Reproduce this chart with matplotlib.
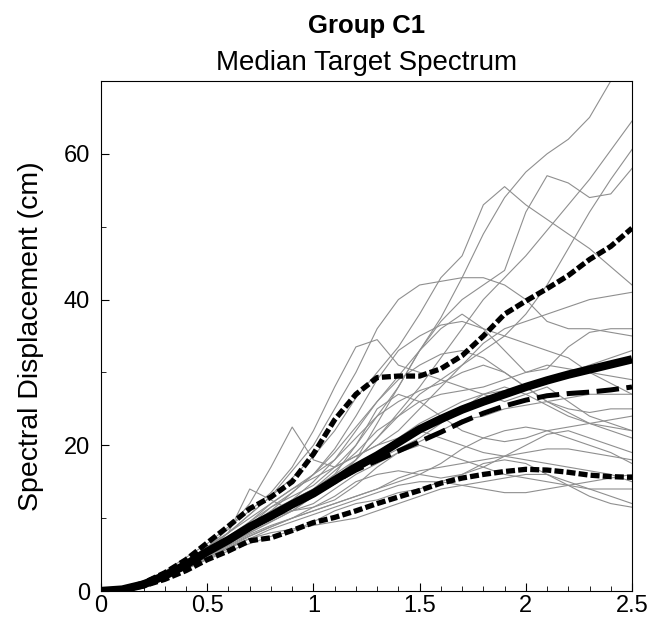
import numpy as np
import matplotlib
matplotlib.use("Agg")
import matplotlib.pyplot as plt
from matplotlib.ticker import MultipleLocator

plt.rcParams["font.family"] = ["Liberation Sans", "DejaVu Sans"]

# ===== DATA =====
periods = [0.0, 0.1, 0.2, 0.3, 0.4, 0.5, 0.6, 0.7, 0.8, 0.9, 1.0, 1.1, 1.2,
           1.3, 1.4, 1.5, 1.6, 1.7, 1.8, 1.9, 2.0, 2.1, 2.2, 2.3, 2.4, 2.5]

records = [
    [0, 0.3, 1.0, 2.2, 3.8, 5.5, 7.2, 9.0, 11.0, 13.5, 16.0, 19.0, 22.5, 26.0, 29.5, 33.0, 37.5, 43.0, 49.0, 54.0, 57.5, 60.0, 62.0, 65.0, 70.0, 74.0],
    [0, 0.3, 1.0, 2.4, 4.0, 6.0, 8.0, 10.5, 13.0, 15.5, 18.5, 22.0, 26.5, 30.0, 33.5, 38.0, 43.0, 46.0, 53.0, 55.5, 53.0, 51.0, 49.0, 47.0, 44.5, 42.0],
    [0, 0.2, 0.9, 2.0, 3.5, 5.2, 7.0, 9.0, 11.5, 13.0, 14.5, 17.0, 20.0, 24.0, 28.0, 33.0, 37.0, 40.0, 42.0, 44.0, 52.0, 57.0, 56.0, 54.0, 54.5, 58.0],
    [0, 0.3, 1.1, 2.3, 3.6, 5.0, 6.5, 8.0, 9.5, 11.0, 13.0, 15.5, 18.0, 21.0, 24.0, 27.0, 29.0, 31.0, 33.0, 35.0, 38.0, 42.0, 47.0, 52.0, 56.5, 60.6],
    [0, 0.2, 0.8, 1.8, 3.2, 4.8, 6.5, 8.5, 10.5, 12.5, 14.0, 16.0, 18.0, 21.0, 24.5, 28.0, 32.0, 36.0, 40.0, 43.0, 46.0, 49.5, 53.0, 56.5, 60.5, 64.5],
    [0, 0.3, 1.0, 2.5, 4.2, 6.0, 8.0, 10.5, 13.0, 16.5, 20.0, 25.0, 30.0, 36.0, 40.0, 42.0, 42.5, 43.0, 43.0, 42.0, 40.0, 37.0, 36.0, 36.0, 35.5, 35.0],
    [0, 0.3, 1.2, 2.7, 4.6, 6.5, 8.8, 11.0, 13.5, 17.0, 22.0, 28.0, 33.5, 34.5, 31.0, 30.0, 29.0, 28.0, 27.0, 26.0, 27.0, 28.0, 26.0, 24.0, 23.0, 22.0],
    [0, 0.2, 0.9, 2.0, 3.4, 5.0, 7.0, 9.0, 10.5, 12.0, 13.5, 15.0, 18.0, 23.0, 28.0, 33.0, 36.0, 38.0, 36.0, 33.0, 30.0, 30.5, 33.5, 35.5, 36.0, 36.0],
    [0, 0.3, 1.1, 2.4, 4.0, 6.0, 8.5, 12.0, 17.0, 22.5, 18.0, 17.0, 18.5, 20.0, 21.0, 22.0, 21.0, 20.0, 19.0, 18.5, 18.0, 17.5, 17.0, 16.5, 16.0, 15.0],
    [0, 0.2, 0.9, 2.2, 3.8, 5.5, 8.0, 14.0, 12.5, 11.0, 12.0, 14.0, 16.0, 17.5, 19.0, 20.5, 22.0, 23.5, 24.0, 25.0, 25.5, 26.0, 26.5, 27.0, 27.0, 27.0],
    [0, 0.2, 0.8, 1.9, 3.2, 4.6, 6.0, 7.2, 8.0, 8.5, 9.0, 9.5, 10.0, 11.0, 12.0, 13.0, 14.0, 14.5, 15.0, 15.5, 16.0, 16.0, 15.0, 14.0, 13.0, 12.0],
    [0, 0.2, 0.8, 1.8, 3.0, 4.3, 5.5, 6.5, 7.5, 8.2, 9.5, 11.0, 12.0, 12.5, 13.5, 14.0, 15.0, 16.0, 17.5, 18.0, 17.5, 16.0, 14.5, 13.0, 12.0, 11.5],
    [0, 0.3, 1.0, 2.2, 3.6, 5.2, 6.8, 8.5, 10.0, 11.5, 13.0, 15.0, 17.0, 19.0, 21.0, 23.0, 24.5, 26.0, 27.0, 27.5, 28.0, 29.0, 30.0, 31.0, 32.0, 33.0],
    [0, 0.2, 0.9, 2.1, 3.5, 5.0, 6.5, 8.0, 9.5, 11.0, 13.0, 16.0, 20.0, 25.0, 27.0, 26.0, 24.0, 22.0, 21.0, 20.5, 21.0, 22.0, 22.5, 23.0, 23.5, 24.0],
    [0, 0.3, 1.1, 2.5, 4.2, 6.0, 8.0, 10.0, 12.0, 14.0, 16.0, 18.0, 21.0, 24.0, 26.0, 27.5, 28.5, 30.0, 31.0, 30.0, 28.0, 26.0, 25.0, 24.5, 25.0, 25.0],
    [0, 0.2, 0.8, 1.9, 3.3, 4.8, 6.3, 7.8, 9.0, 10.0, 11.0, 12.0, 13.0, 14.0, 15.5, 16.5, 17.0, 17.5, 18.0, 18.5, 19.0, 19.5, 19.5, 19.0, 18.5, 18.0],
    [0, 0.2, 0.9, 2.0, 3.4, 5.0, 6.8, 8.5, 10.0, 11.0, 11.5, 12.5, 14.5, 17.0, 19.0, 20.0, 19.0, 18.0, 17.0, 16.0, 15.5, 15.0, 14.5, 14.0, 14.0, 14.0],
    [0, 0.3, 1.0, 2.3, 3.9, 5.5, 7.2, 9.0, 11.0, 12.5, 14.0, 16.5, 19.0, 22.0, 24.0, 26.0, 27.0, 27.5, 28.0, 29.0, 30.0, 31.0, 30.5, 30.0, 29.5, 29.0],
    [0, 0.2, 0.8, 1.9, 3.2, 4.6, 6.0, 7.5, 8.8, 10.0, 11.5, 13.0, 15.0, 16.0, 16.5, 16.0, 15.5, 16.0, 17.0, 18.5, 20.0, 21.5, 22.0, 21.0, 20.0, 19.0],
    [0, 0.3, 1.0, 2.2, 3.6, 5.2, 7.0, 9.5, 12.0, 14.0, 15.5, 17.0, 18.5, 20.0, 22.0, 25.0, 28.0, 31.0, 34.0, 36.0, 37.0, 38.0, 39.0, 40.0, 40.5, 41.0],
    [0, 0.2, 0.9, 2.1, 3.5, 5.2, 7.0, 8.8, 10.5, 12.5, 15.0, 18.0, 22.0, 26.0, 29.0, 31.0, 32.5, 33.0, 32.0, 30.0, 28.0, 26.0, 24.5, 23.0, 22.0, 21.0],
    [0, 0.2, 0.8, 1.8, 3.0, 4.4, 5.8, 7.2, 8.5, 9.5, 10.5, 11.5, 12.5, 13.5, 14.5, 15.0, 15.0, 14.5, 14.0, 13.5, 13.5, 14.0, 14.5, 15.0, 15.5, 16.0],
    [0, 0.3, 1.0, 2.3, 3.8, 5.5, 7.5, 9.5, 11.5, 13.5, 16.0, 19.5, 24.0, 29.0, 33.0, 35.0, 36.5, 37.0, 36.0, 35.0, 34.0, 33.0, 32.0, 30.0, 28.5, 27.0],
    [0, 0.2, 0.9, 2.0, 3.3, 4.8, 6.2, 7.6, 8.8, 10.0, 11.0, 12.0, 13.0, 14.0, 15.0, 16.0, 17.5, 19.5, 21.0, 22.0, 22.5, 22.0, 21.0, 20.0, 19.0, 17.5],
    [0, 0.3, 1.0, 2.4, 4.0, 5.8, 7.5, 9.0, 10.5, 12.0, 13.5, 15.0, 16.5, 18.0, 19.5, 21.0, 23.0, 25.0, 27.0, 28.0, 27.0, 25.5, 24.0, 23.0, 22.5, 22.0],
]

median = [0, 0.2, 0.9, 2.1, 3.6, 5.4, 7.0, 8.8, 10.3, 11.9, 13.4, 15.2, 17.0,
          18.6, 20.4, 22.2, 23.6, 24.9, 26.0, 27.0, 28.0, 28.9, 29.7, 30.4, 31.1, 31.8]
target = [0, 0.2, 0.9, 2.1, 3.6, 5.3, 6.9, 8.6, 10.2, 11.8, 13.3, 15.0, 16.6,
          17.9, 19.2, 20.5, 21.8, 23.2, 24.4, 25.4, 26.2, 26.8, 27.1, 27.3, 27.6, 28.0]
upper = [0, 0.25, 1.1, 2.5, 4.3, 6.6, 8.9, 11.3, 12.9, 15.0, 18.8, 23.5, 27.0,
         29.3, 29.5, 29.5, 30.5, 32.3, 35.0, 38.0, 39.8, 41.5, 43.3, 45.5, 47.3, 49.8]
lower = [0, 0.15, 0.7, 1.6, 2.8, 4.3, 5.5, 6.9, 7.3, 8.3, 9.4, 10.1, 11.0,
         12.0, 12.9, 13.8, 14.8, 15.5, 16.0, 16.4, 16.7, 16.6, 16.3, 15.9, 15.7, 15.6]

# ===== PLOT =====
fig = plt.figure(figsize=(6.62, 6.21), dpi=100)
ax = fig.add_axes([0.1526, 0.0483, 0.8021, 0.8213])

for rec in records:
    ax.plot(periods, rec, color="#8f8f8f", lw=0.8)

ax.plot(periods, upper, color="black", lw=3.8, dashes=(1.7, 0.6))
ax.plot(periods, lower, color="black", lw=3.8, dashes=(1.7, 0.6))
ax.plot(periods, target, color="black", lw=3.6, dashes=(4.5, 1.5))
ax.plot(periods, median, color="black", lw=6, solid_capstyle="butt")

ax.set_xlim(0, 2.5)
ax.set_ylim(0, 70)
ax.xaxis.set_minor_locator(MultipleLocator(0.1))
ax.yaxis.set_minor_locator(MultipleLocator(10))
ax.set_xticks([0, 0.5, 1, 1.5, 2, 2.5])
ax.set_xticklabels(["0", "0.5", "1", "1.5", "2", "2.5"])
ax.set_yticks([0, 20, 40, 60])
ax.tick_params(which="both", direction="in", top=False, right=False, labelsize=17)
ax.tick_params(which="major", length=6)
ax.tick_params(which="minor", length=3.5)
ax.tick_params(axis="y", pad=8)
ax.tick_params(axis="x", pad=3)

ax.set_ylabel("Spectral Displacement (cm)", fontsize=20.5, labelpad=14)
fig.text(0.5536, 0.958, "Group C1", ha="center", va="center",
         fontsize=18.5, fontweight="bold")
fig.text(0.5536, 0.899, "Median Target Spectrum", ha="center", va="center",
         fontsize=20)

fig.savefig("out.png", dpi=100)
